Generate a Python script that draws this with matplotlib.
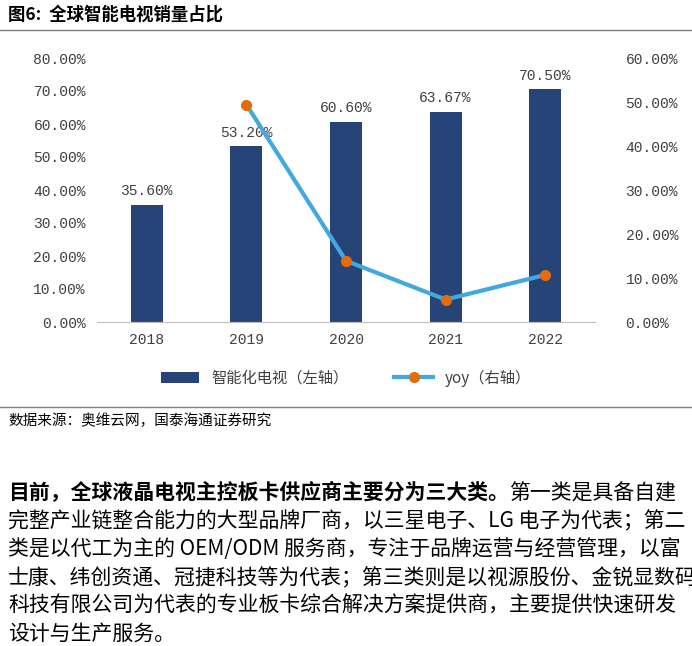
import matplotlib
matplotlib.use("Agg")
import matplotlib.pyplot as plt
from matplotlib.lines import Line2D

years = ["2018", "2019", "2020", "2021", "2022"]
share = [35.60, 53.20, 60.60, 63.67, 70.50]
yoy_years = [1, 2, 3, 4]
yoy = [49.4, 13.9, 5.1, 10.7]
left_ticks = [0, 10, 20, 30, 40, 50, 60, 70, 80]
right_ticks = [0, 10, 20, 30, 40, 50, 60]

CJK = ["Noto Sans CJK SC", "DejaVu Sans"]
SERIF = ["Liberation Mono", "Noto Sans CJK SC"]

fig = plt.figure(figsize=(6.92, 6.46), dpi=100)
W, H = 692, 646
def fy(p): return 1 - p / H
def fx(p): return p / W

ax = fig.add_axes([fx(97), fy(322), fx(498), fy(58) - fy(322)])
x = list(range(len(years)))
bars = ax.bar(x, share, width=0.32, color="#264478", label="智能化电视（左轴）", zorder=2)
ax.set_ylim(0, 80)
ax.set_xlim(-0.5, 4.5)
ax.set_yticks(left_ticks)
ax.set_yticklabels([f"{v:.2f}%" for v in left_ticks], family=SERIF, fontsize=10.5, color="#404040")
ax.set_xticks(x)
ax.set_xticklabels(years, family=SERIF, fontsize=10.5, color="#404040")
for xi, v in zip(x, share):
    ax.text(xi, v + 2, f"{v:.2f}%", ha="center", va="bottom", family=SERIF, fontsize=10.5, color="#404040")
for s in ["top", "right", "left"]:
    ax.spines[s].set_visible(False)
ax.spines["bottom"].set_color("#bfbfbf")
ax.tick_params(length=0, pad=8)

ax2 = ax.twinx()
ln, = ax2.plot(yoy_years, yoy, color="#41A8E0", lw=3, marker="o", markersize=7,
               markerfacecolor="#E46C0A", markeredgecolor="#E46C0A", label="yoy（右轴）", zorder=3)
ax2.set_ylim(0, 60)
ax2.set_yticks(right_ticks)
ax2.set_yticklabels([f"{v:.2f}%" for v in right_ticks], family=SERIF, fontsize=10.5, color="#404040")
for s in ["top", "right", "left", "bottom"]:
    ax2.spines[s].set_visible(False)
ax2.tick_params(length=0, pad=22)

leg = fig.legend(handles=[bars, ln], loc="center", bbox_to_anchor=(0.5, fy(378)), ncol=2,
                 frameon=False, prop={"family": CJK, "size": 11}, columnspacing=3, handlelength=2.5)
for t in leg.get_texts():
    t.set_color("#404040")

fig.text(fx(8), fy(15), "图6:  全球智能电视销量占比", family=CJK, fontsize=12.5, fontweight="bold", va="center")
fig.add_artist(Line2D([0, 1], [fy(30), fy(30)], color="#7f7f7f", lw=1))
fig.add_artist(Line2D([0, 1], [fy(407), fy(407)], color="#7f7f7f", lw=1))
fig.text(fx(8), fy(421), "数据来源：奥维云网，国泰海通证券研究", family=CJK, fontsize=10.5, va="center")

lines = [
    ("目前，全球液晶电视主控板卡供应商主要分为三大类。", "第一类是具备自建"),
    ("", "完整产业链整合能力的大型品牌厂商，以三星电子、LG 电子为代表；第二"),
    ("", "类是以代工为主的 OEM/ODM 服务商，专注于品牌运营与经营管理，以富"),
    ("", "士康、纬创资通、冠捷科技等为代表；第三类则是以视源股份、金锐显数码"),
    ("", "科技有限公司为代表的专业板卡综合解决方案提供商，主要提供快速研发"),
    ("", "设计与生产服务。"),
]
ys = [493, 521, 549, 578, 606, 634]
r = fig.canvas.get_renderer()
for (b, n), yy in zip(lines, ys):
    xs = fx(8)
    if b:
        t = fig.text(xs, fy(yy), b, family=CJK, fontsize=15, fontweight="bold", va="center")
        bb = t.get_window_extent(r)
        xs = bb.x1 / fig.bbox.width
    fig.text(xs, fy(yy), n, family=CJK, fontsize=15, va="center")

fig.savefig("out.png", dpi=100)
